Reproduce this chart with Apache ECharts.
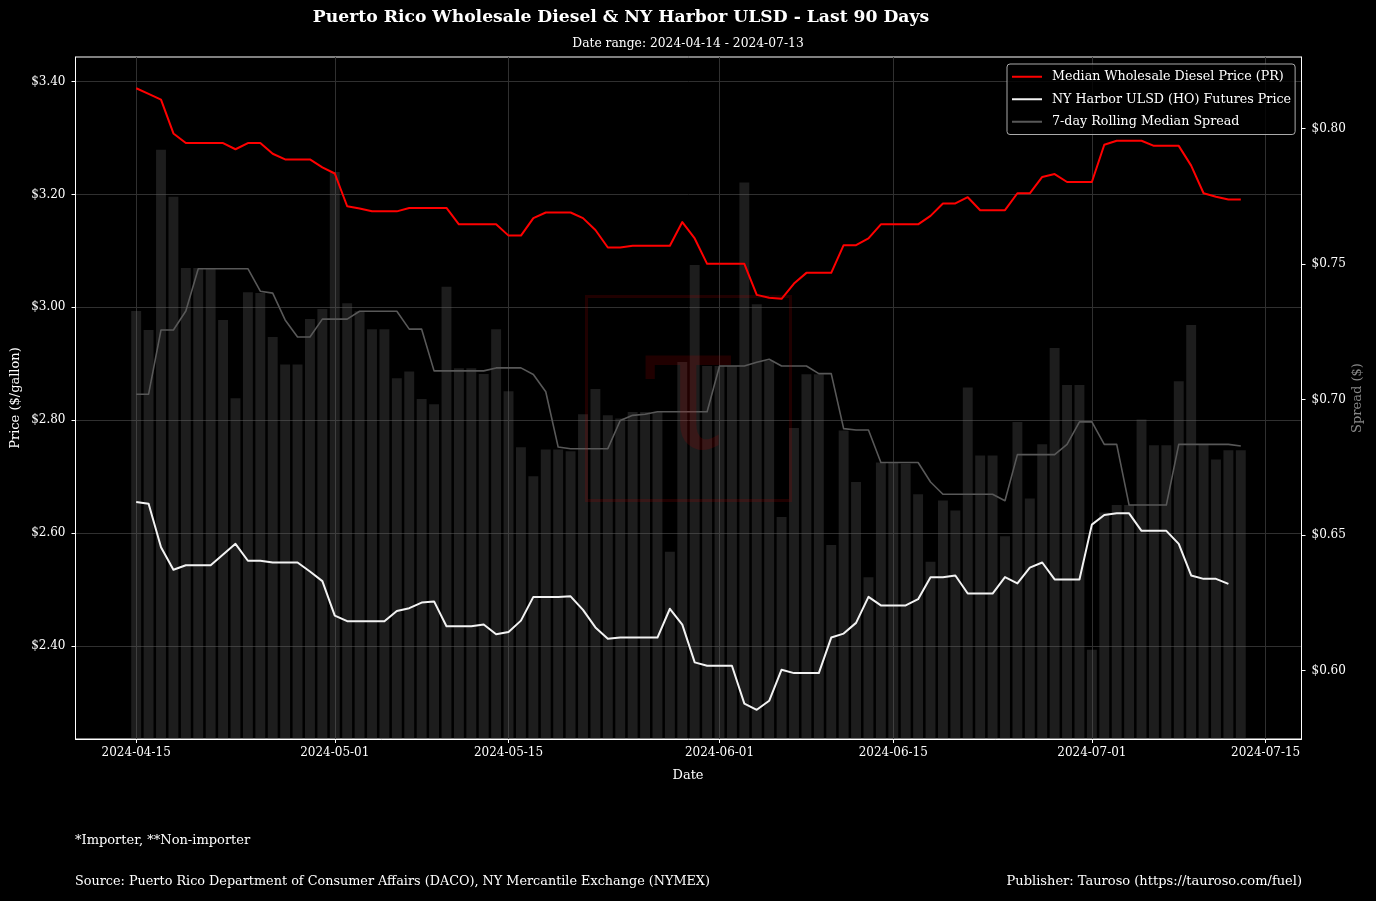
<!DOCTYPE html>
<html><head><meta charset="utf-8">
<script src="https://cdn.jsdelivr.net/npm/echarts@6/dist/echarts.min.js"></script>
<style>html,body{margin:0;padding:0;background:#000}#c{width:1376px;height:901px}</style>
</head><body><div id="c"></div>
<script>
const dates = [
'2024-04-15','2024-04-16','2024-04-17','2024-04-18','2024-04-19','2024-04-20','2024-04-21','2024-04-22','2024-04-23','2024-04-24',
'2024-04-25','2024-04-26','2024-04-27','2024-04-28','2024-04-29','2024-04-30','2024-05-01','2024-05-02','2024-05-03','2024-05-04',
'2024-05-05','2024-05-06','2024-05-07','2024-05-08','2024-05-09','2024-05-10','2024-05-11','2024-05-12','2024-05-13','2024-05-14',
'2024-05-15','2024-05-16','2024-05-17','2024-05-18','2024-05-19','2024-05-20','2024-05-21','2024-05-22','2024-05-23','2024-05-24',
'2024-05-25','2024-05-26','2024-05-27','2024-05-28','2024-05-29','2024-05-30','2024-05-31','2024-06-01','2024-06-02','2024-06-03',
'2024-06-04','2024-06-05','2024-06-06','2024-06-07','2024-06-08','2024-06-09','2024-06-10','2024-06-11','2024-06-12','2024-06-13',
'2024-06-14','2024-06-15','2024-06-16','2024-06-17','2024-06-18','2024-06-19','2024-06-20','2024-06-21','2024-06-22','2024-06-23',
'2024-06-24','2024-06-25','2024-06-26','2024-06-27','2024-06-28','2024-06-29','2024-06-30','2024-07-01','2024-07-02','2024-07-03',
'2024-07-04','2024-07-05','2024-07-06','2024-07-07','2024-07-08','2024-07-09','2024-07-10','2024-07-11','2024-07-12','2024-07-13'];

const prPrice = [
3.388,3.378,3.368,3.308,3.291,3.291,3.291,3.291,3.280,3.291,
3.291,3.272,3.262,3.262,3.262,3.248,3.237,3.179,3.175,3.170,
3.170,3.170,3.176,3.176,3.176,3.176,3.147,3.147,3.147,3.147,
3.127,3.127,3.158,3.168,3.168,3.168,3.158,3.137,3.106,3.106,
3.109,3.109,3.109,3.109,3.151,3.122,3.077,3.077,3.077,3.077,
3.022,3.017,3.015,3.042,3.061,3.061,3.061,3.110,3.110,3.122,
3.147,3.147,3.147,3.147,3.162,3.184,3.184,3.195,3.172,3.172,
3.172,3.202,3.202,3.231,3.236,3.222,3.222,3.222,3.288,3.295,
3.295,3.295,3.286,3.286,3.286,3.251,3.202,3.196,3.191,3.191];

const hoPrice = [
2.655,2.652,2.575,2.535,2.543,2.543,2.543,2.562,2.581,2.551,
2.551,2.548,2.548,2.548,2.532,2.515,2.454,2.444,2.444,2.444,
2.444,2.462,2.467,2.477,2.479,2.435,2.435,2.435,2.438,2.421,
2.425,2.445,2.487,2.487,2.487,2.488,2.464,2.433,2.413,2.415,
2.415,2.415,2.415,2.466,2.438,2.371,2.365,2.365,2.365,2.298,
2.287,2.303,2.358,2.352,2.352,2.352,2.415,2.422,2.441,2.487,
2.472,2.472,2.472,2.483,2.522,2.522,2.525,2.493,2.493,2.493,
2.522,2.511,2.539,2.548,2.518,2.518,2.518,2.615,2.632,2.635,
2.635,2.604,2.604,2.604,2.581,2.525,2.519,2.519,2.510,null];

const dailySpread = [
0.7327,0.7257,0.7922,0.7748,0.7486,0.7486,0.7486,0.7294,0.7005,0.7396,
0.7393,0.7231,0.7130,0.7130,0.7297,0.7334,0.7840,0.7356,0.7326,0.7260,
0.7260,0.7079,0.7104,0.7002,0.6983,0.7416,0.7116,0.7116,0.7095,0.7260,
0.7031,0.6824,0.6717,0.6816,0.6816,0.6810,0.6946,0.7039,0.6942,0.6930,
0.6954,0.6954,0.6954,0.6439,0.7139,0.7497,0.7124,0.7124,0.7124,0.7801,
0.7352,0.7143,0.6567,0.6895,0.7094,0.7094,0.6464,0.6886,0.6696,0.6345,
0.6768,0.6768,0.6763,0.6651,0.6402,0.6628,0.6591,0.7045,0.6794,0.6794,
0.6496,0.6917,0.6635,0.6835,0.7190,0.7054,0.7054,0.6077,0.6584,0.6611,
0.6611,0.6927,0.6832,0.6832,0.7068,0.7275,0.6835,0.6779,0.6813,0.6813];

const rollingSpread = [
0.7020,0.7020,0.7257,0.7257,0.7327,0.7483,0.7483,0.7483,0.7483,0.7483,
0.7400,0.7393,0.7294,0.7231,0.7231,0.7297,0.7297,0.7297,0.7326,0.7326,
0.7326,0.7326,0.7260,0.7260,0.7106,0.7106,0.7106,0.7106,0.7106,0.7117,
0.7117,0.7117,0.7093,0.7029,0.6825,0.6819,0.6819,0.6819,0.6819,0.6923,
0.6942,0.6946,0.6955,0.6955,0.6955,0.6955,0.6955,0.7124,0.7124,0.7124,
0.7138,0.7149,0.7124,0.7124,0.7124,0.7096,0.7096,0.6893,0.6888,0.6888,
0.6768,0.6768,0.6768,0.6768,0.6696,0.6651,0.6651,0.6651,0.6651,0.6651,
0.6627,0.6797,0.6797,0.6797,0.6797,0.6835,0.6918,0.6918,0.6835,0.6835,
0.6611,0.6611,0.6611,0.6611,0.6835,0.6835,0.6835,0.6835,0.6835,0.6829];

const xTickLabels = ['2024-04-15','2024-05-01','2024-05-15','2024-06-01','2024-06-15','2024-07-01','2024-07-15'];
const priceTicks = [2.4, 2.6, 2.8, 3.0, 3.2, 3.4];
const spreadTicks = [0.60, 0.65, 0.70, 0.75, 0.80];

const FONT = '"DejaVu Serif", serif';
const DAY = 86400000;
const t0 = Date.parse(dates[0]);
const dayOf = s => (Date.parse(s) - t0) / DAY;
const pairs = arr => dates.map((d, i) => [dayOf(d), arr[i]]).filter(p => p[1] !== null);
const xTickVals = xTickLabels.map(dayOf);

const chart = echarts.init(document.getElementById('c'), null, {renderer: 'canvas'});
chart.setOption({
  backgroundColor: '#000',
  animation: false,
  grid: {left: 75.5, top: 57, width: 1226, height: 682, show: true, borderColor: '#ffffff', borderWidth: 1, backgroundColor: 'transparent', containLabel: false},
  legend: {
    left: 1007, top: 64, orient: 'vertical', itemWidth: 30, itemHeight: 2, itemGap: 7,
    padding: [5, 4, 5, 5], borderColor: '#aaaaaa', borderWidth: 1, borderRadius: 3,
    backgroundColor: 'rgba(0,0,0,0.8)', icon: 'rect',
    textStyle: {color: '#ffffff', fontFamily: FONT, fontSize: 12.7, lineHeight: 15.5, padding: [0, 0, 0, 5]},
    data: ['Median Wholesale Diesel Price (PR)', 'NY Harbor ULSD (HO) Futures Price', '7-day Rolling Median Spread']
  },
  xAxis: {
    type: 'value', min: -4.89, max: 93.89,
    axisLine: {show: true, onZero: false, lineStyle: {color: '#ffffff'}},
    axisTick: {show: true, length: 4, customValues: xTickVals, lineStyle: {color: '#ffffff'}},
    axisLabel: {customValues: xTickVals, color: '#ffffff', fontFamily: FONT, fontSize: 12, margin: 8,
      formatter: v => { const k = xTickVals.findIndex(t => Math.abs(t - v) < 0.01); return k >= 0 ? xTickLabels[k] : ''; }},
    splitLine: {show: true, lineStyle: {color: '#303030', width: 1}}
  },
  yAxis: [{
    type: 'value', position: 'left', min: 2.2353, max: 3.4434,
    axisLine: {show: true, onZero: false, lineStyle: {color: '#ffffff'}},
    axisTick: {show: true, length: 4, customValues: priceTicks, lineStyle: {color: '#ffffff'}},
    axisLabel: {customValues: priceTicks, color: '#ffffff', fontFamily: FONT, fontSize: 12, margin: 10,
      formatter: v => '$' + v.toFixed(2)},
    splitLine: {show: true, lineStyle: {color: '#303030', width: 1}}
  }, {
    type: 'value', position: 'right', min: 0.5748, max: 0.8264,
    axisLine: {show: true, onZero: false, lineStyle: {color: '#ffffff'}},
    axisTick: {show: true, length: 4, customValues: spreadTicks, lineStyle: {color: '#ffffff'}},
    axisLabel: {customValues: spreadTicks, color: '#ffffff', fontFamily: FONT, fontSize: 12, margin: 10,
      formatter: v => '$' + v.toFixed(2)},
    splitLine: {show: false}
  }],
  series: [{
    name: 'Daily Spread', type: 'bar', yAxisIndex: 1, barWidth: 9.9,
    itemStyle: {color: 'rgba(100,100,100,0.29)'},
    data: pairs(dailySpread), z: 1
  }, {
    name: 'Median Wholesale Diesel Price (PR)', type: 'line', yAxisIndex: 0, symbol: 'none', showSymbol: false,
    lineStyle: {color: '#ff0000', width: 2, join: 'round'}, itemStyle: {color: '#ff0000'},
    data: pairs(prPrice), z: 3
  }, {
    name: 'NY Harbor ULSD (HO) Futures Price', type: 'line', yAxisIndex: 0, symbol: 'none', showSymbol: false,
    lineStyle: {color: '#f2f2f2', width: 2, join: 'round'}, itemStyle: {color: '#f2f2f2'},
    data: pairs(hoPrice), z: 3
  }, {
    name: '7-day Rolling Median Spread', type: 'line', yAxisIndex: 1, symbol: 'none', showSymbol: false,
    lineStyle: {color: '#585858', width: 1.6, join: 'round'}, itemStyle: {color: '#585858'},
    data: pairs(rollingSpread), z: 2
  }],
  graphic: [
    {type: 'rect', z: 50, shape: {x: 586.5, y: 296.5, width: 204, height: 204}, style: {fill: 'none', stroke: 'rgba(190,0,0,0.17)', lineWidth: 3}},
    {type: 'text', z: 50, x: 688, y: 402, style: {text: 'τ', fill: 'rgba(190,0,0,0.17)', font: '180px "DejaVu Serif", serif', align: 'center', verticalAlign: 'middle'}},
    {type: 'text', z: 60, x: 621, y: 18, style: {text: 'Puerto Rico Wholesale Diesel & NY Harbor ULSD - Last 90 Days', fill: '#ffffff', font: 'bold 17.2px "DejaVu Serif", serif', align: 'center', verticalAlign: 'middle'}},
    {type: 'text', z: 60, x: 688, y: 44, style: {text: 'Date range: 2024-04-14 - 2024-07-13', fill: '#ffffff', font: '12.3px "DejaVu Serif", serif', align: 'center', verticalAlign: 'middle'}},
    {type: 'text', z: 60, x: 16, y: 398, rotation: Math.PI / 2, style: {text: 'Price ($/gallon)', fill: '#ffffff', font: '13px "DejaVu Serif", serif', align: 'center', verticalAlign: 'middle'}},
    {type: 'text', z: 60, x: 1358, y: 398, rotation: Math.PI / 2, style: {text: 'Spread ($)', fill: '#888888', font: '13px "DejaVu Serif", serif', align: 'center', verticalAlign: 'middle'}},
    {type: 'text', z: 60, x: 688, y: 776, style: {text: 'Date', fill: '#ffffff', font: '13px "DejaVu Serif", serif', align: 'center', verticalAlign: 'middle'}},
    {type: 'text', z: 60, x: 75, y: 841, style: {text: '*Importer, **Non-importer', fill: '#ffffff', font: '13px "DejaVu Serif", serif', align: 'left', verticalAlign: 'middle'}},
    {type: 'text', z: 60, x: 75, y: 882, style: {text: 'Source: Puerto Rico Department of Consumer Affairs (DACO), NY Mercantile Exchange (NYMEX)', fill: '#ffffff', font: '12.8px "DejaVu Serif", serif', align: 'left', verticalAlign: 'middle'}},
    {type: 'text', z: 60, x: 1302, y: 882, style: {text: 'Publisher: Tauroso (https://tauroso.com/fuel)', fill: '#ffffff', font: '13px "DejaVu Serif", serif', align: 'right', verticalAlign: 'middle'}}
  ]
});
</script>
</body></html>
